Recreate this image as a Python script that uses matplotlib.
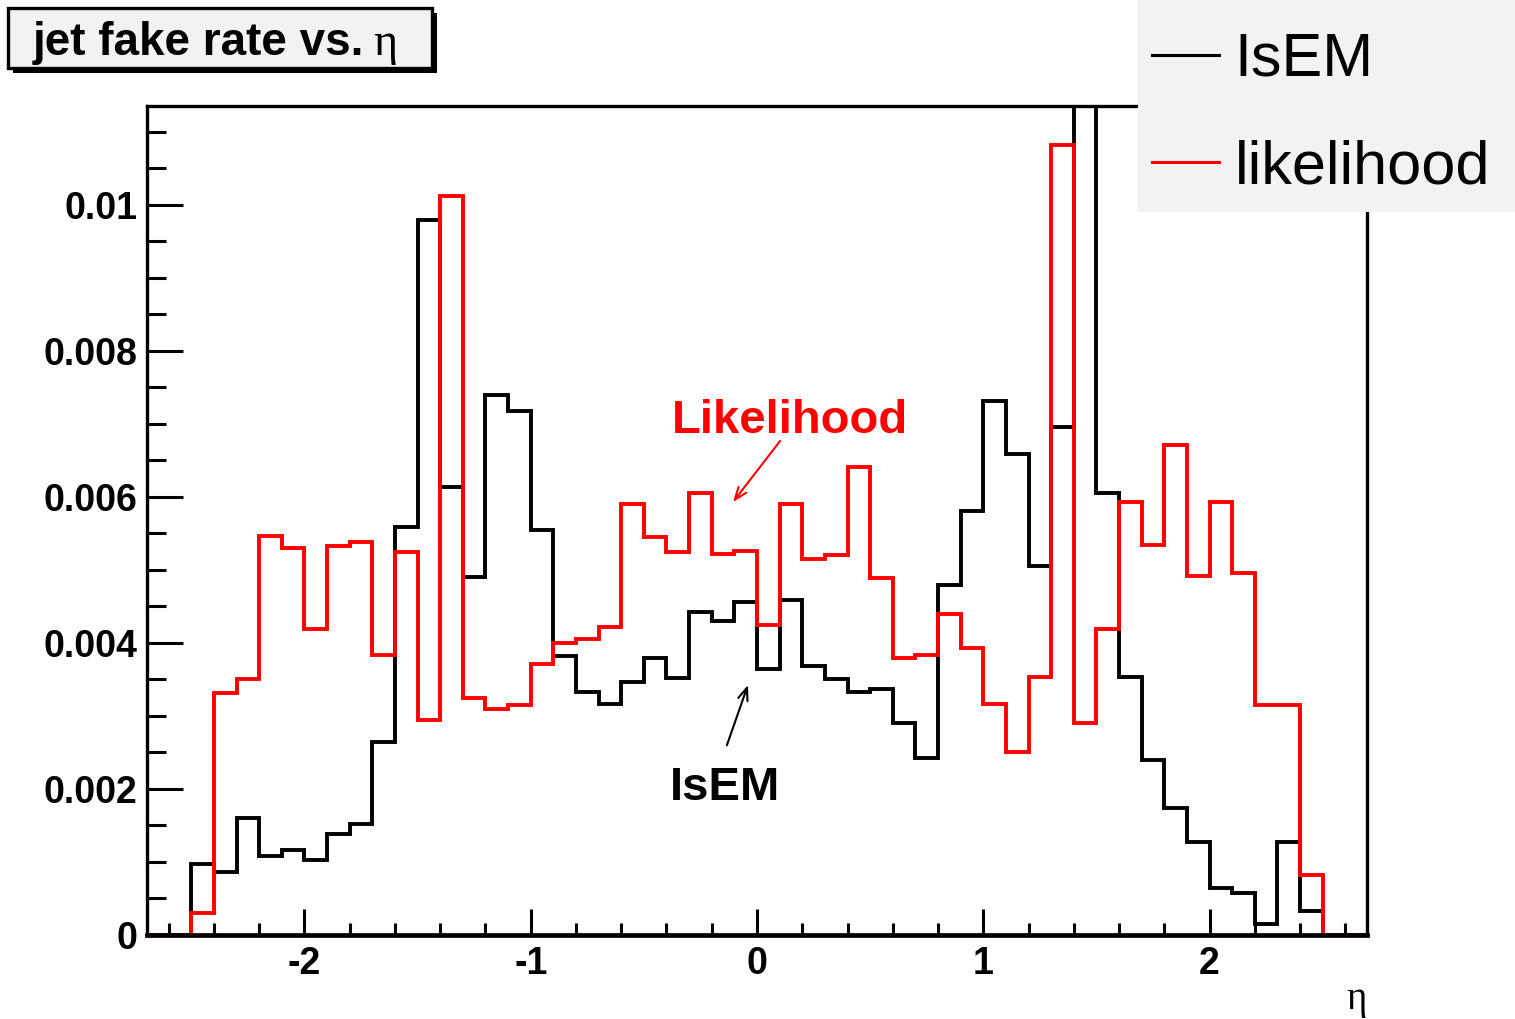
import numpy as np
import matplotlib
matplotlib.use('Agg')
import matplotlib.pyplot as plt
from matplotlib.lines import Line2D
from matplotlib.patches import Rectangle
from matplotlib.ticker import MultipleLocator, FuncFormatter

plt.rcParams['axes.unicode_minus'] = False
plt.rcParams['font.family'] = ['Liberation Sans', 'DejaVu Sans']

# eta bins, width 0.1, histogram range -2.7 .. 2.7
eta_edges = np.round(np.linspace(-2.7, 2.7, 55), 2)

# jet fake rate per bin (in units of 1e-3)
isem = np.array([0, 0,
                 0.97, 0.86, 1.60, 1.08, 1.16, 1.03, 1.38, 1.52, 2.64, 5.59,
                 9.80, 6.14, 4.90, 7.40, 7.18, 5.55, 3.82, 3.33, 3.17, 3.47,
                 3.79, 3.52, 4.43, 4.30, 4.56, 3.65, 4.59, 3.69, 3.50, 3.33,
                 3.37, 2.91, 2.42, 4.80, 5.81, 7.31, 6.59, 5.05, 6.96, 13.0,
                 6.06, 3.53, 2.40, 1.74, 1.27, 0.64, 0.57, 0.15, 1.28, 0.33,
                 0, 0]) * 1e-3
likelihood = np.array([0, 0,
                       0.30, 3.32, 3.50, 5.46, 5.30, 4.19, 5.33, 5.38, 3.83, 5.25,
                       2.95, 10.12, 3.24, 3.10, 3.15, 3.71, 4.00, 4.05, 4.22, 5.91,
                       5.45, 5.25, 6.05, 5.22, 5.26, 4.24, 5.91, 5.15, 5.21, 6.41,
                       4.89, 3.79, 3.84, 4.40, 3.93, 3.16, 2.50, 3.53, 10.82, 2.90,
                       4.19, 5.93, 5.34, 6.71, 4.92, 5.93, 4.96, 3.15, 3.15, 0.82,
                       0, 0]) * 1e-3

W, H = 1515, 1019
fig = plt.figure(figsize=(W / 100, H / 100), dpi=100)
fig.patch.set_facecolor('white')

#axes frame in pixel positions of the original
ax = fig.add_axes([147 / W, 1 - 935 / H, (1367 - 147) / W, (935 - 106) / H])

ax.stairs(isem, eta_edges, baseline=0, color='black', lw=2.8)
ax.stairs(likelihood, eta_edges, baseline=0, color='#ff0000', lw=2.8)

ax.set_xlim(-2.696, 2.696)
ax.set_ylim(0, 0.011356)

ax.xaxis.set_major_locator(MultipleLocator(1))
ax.xaxis.set_minor_locator(MultipleLocator(0.2))
ax.yaxis.set_major_locator(MultipleLocator(0.002))
ax.yaxis.set_minor_locator(MultipleLocator(0.0005))
ax.xaxis.set_major_formatter(FuncFormatter(lambda v, p: '%d' % round(v)))
ax.yaxis.set_major_formatter(FuncFormatter(lambda v, p: '%g' % round(v, 4)))

ax.tick_params(axis='both', which='both', direction='in', top=False, right=False,
               width=2.2, color='black')
ax.tick_params(axis='y', which='major', length=26, pad=7, labelsize=27)
ax.tick_params(axis='y', which='minor', length=14)
ax.tick_params(axis='x', which='major', length=19, pad=8, labelsize=27)
ax.tick_params(axis='x', which='minor', length=9)
for lab in ax.get_xticklabels() + ax.get_yticklabels():
    lab.set_fontweight('bold')

for side in ['left', 'top', 'right']:
    ax.spines[side].set_linewidth(2.4)
ax.spines['bottom'].set_linewidth(3.4)
for sp in ax.spines.values():
    sp.set_zorder(5)

# annotations
ax.text(0.146, 0.00704, 'Likelihood', color='#ff0000', fontsize=34,
        fontweight='bold', ha='center', va='center')
ax.annotate('', xy=(-0.106, 0.005932), xytext=(0.102, 0.006767),
            arrowprops=dict(arrowstyle='->,head_length=0.9,head_width=0.35',
                            color='#ff0000', lw=1.5, shrinkA=0, shrinkB=0))
ax.text(-0.141, 0.00202, 'IsEM', color='black', fontsize=34,
        fontweight='bold', ha='center', va='center')
ax.annotate('', xy=(-0.040, 0.003425), xytext=(-0.133, 0.0026),
            arrowprops=dict(arrowstyle='->,head_length=0.9,head_width=0.35',
                            color='black', lw=1.5, shrinkA=0, shrinkB=0))

# x axis title
fig.text(1357 / W, 1 - 1000 / H, '\u03b7', family='Liberation Serif',
         fontsize=28, ha='center', va='center')

# title box with shadow
fig.add_artist(Rectangle((13 / W, 1 - 73 / H), 424 / W, 60 / H, transform=fig.transFigure,
                         facecolor='black', edgecolor='none', zorder=8))
fig.add_artist(Rectangle((8 / W, 1 - 68 / H), 424 / W, 60 / H, transform=fig.transFigure,
                         facecolor='#f2f2f2', edgecolor='black', lw=2.4, zorder=9))
fig.text(33 / W, 1 - 55 / H, 'jet fake rate vs.', fontsize=33, fontweight='bold',
         ha='left', va='baseline', zorder=10)
fig.text(373 / W, 1 - 55 / H, '\u03b7', family='Liberation Serif', fontsize=33,
         ha='left', va='baseline', zorder=10)

# legend box
fig.add_artist(Rectangle((1138 / W, 1 - 212 / H), 400 / W, 230 / H, transform=fig.transFigure,
                         facecolor='#f2f2f2', edgecolor='none', zorder=8))
handles = [Line2D([], [], color='black', lw=2.2), Line2D([], [], color='#ff0000', lw=2.2)]
leg = fig.legend(handles, ['IsEM', 'likelihood'], loc='upper left',
                 bbox_to_anchor=(1152 / W, 1 - 32 / H), bbox_transform=fig.transFigure,
                 frameon=False, fontsize=44, handlelength=1.1, handletextpad=0.25,
                 labelspacing=0.82, borderpad=0, borderaxespad=0)
leg.set_zorder(10)

fig.savefig('out.png', dpi=100)
